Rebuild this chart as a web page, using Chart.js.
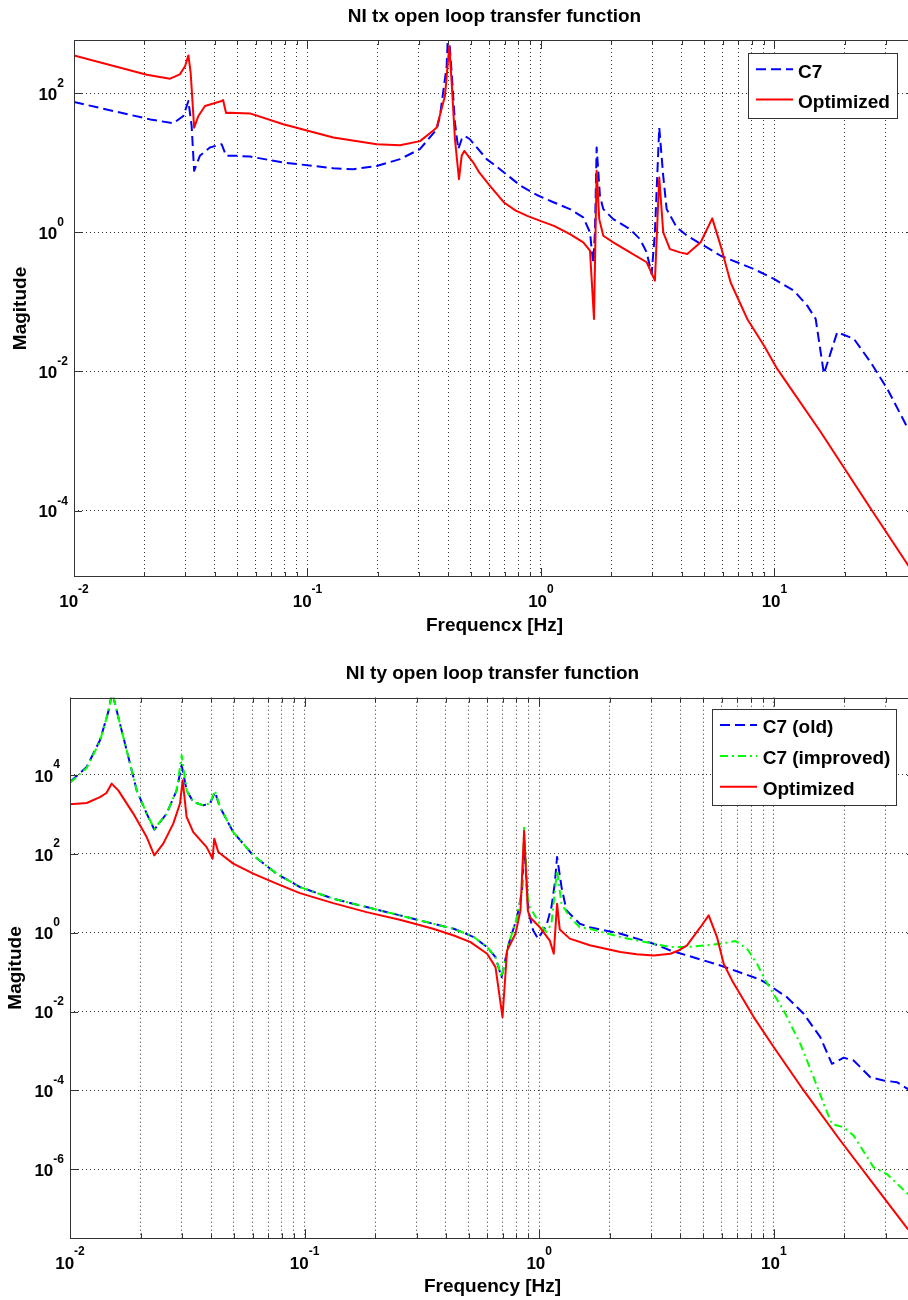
<!DOCTYPE html>
<html>
<head>
<meta charset="utf-8">
<script src="https://cdn.jsdelivr.net/npm/chart.js@4.4.1/dist/chart.umd.min.js"></script>
<style>
html,body{margin:0;padding:0;background:#fff;}
#wrap{position:relative;width:908px;height:1300px;overflow:hidden;background:#fff;}
canvas{position:absolute;left:0;}
#c1{top:0;}
#c2{top:650px;}
</style>
</head>
<body>
<div id="wrap">
<canvas id="c1" width="920" height="650" style="width:920px;height:650px"></canvas>
<canvas id="c2" width="920" height="650" style="width:920px;height:650px"></canvas>
</div>
<script>
// ---------------- DATA ----------------
const titles = ['NI tx open loop transfer function', 'NI ty open loop transfer function'];
const xLabels = ['Frequencx [Hz]', 'Frequency [Hz]'];
const yLabel = 'Magitude';
const txLabels = ['C7', 'Optimized'];
const tyLabels = ['C7 (old)', 'C7 (improved)', 'Optimized'];

const tickBase = '10';
const xMajorTicks = [0.01, 0.1, 1, 10];
const xTickExps = ['-2', '-1', '0', '1'];
const yTicksTop = [1e-4, 1e-2, 1, 1e2];
const yTickExpsTop = ['-4', '-2', '0', '2'];
const yTicksBottom = [1e-6, 1e-4, 1e-2, 1, 1e2, 1e4];
const yTickExpsBottom = ['-6', '-4', '-2', '0', '2', '4'];

// Top panel (tx)
const txFreqC7 = [0.01,0.0212,0.0266,0.0294,0.0309,0.0319,0.0327,0.0346,0.0382,0.0429,0.0448,0.0498,0.0567,0.0788,0.129,0.157,0.198,0.249,0.303,0.3576,0.3694,0.3945,0.4009,0.4146,0.4282,0.4424,0.4575,0.4727,0.4965,0.5853,0.6675,0.8185,0.96,1.137,1.331,1.518,1.622,1.649,1.675,1.703,1.732,1.789,1.849,2.04,2.406,2.655,2.836,2.979,3.077,3.211,3.34,3.454,3.812,4.233,4.991,5.884,8.171,9.952,12.12,13.82,15.02,16.29,18.58,21.9,25.82,30.42,37.31,40];
const txMagC7 = [74.8,42.1,37.0,47.1,77.3,33.9,7.66,12.6,16.6,18.5,12.6,12.6,12.3,10.1,8.36,8.09,9.02,11.3,15.7,30.3,47.1,245,900,197,37.8,15.7,21.8,24.3,21.8,11.3,8.09,4.67,3.45,2.69,2.16,1.64,1.0,0.575,0.372,1.0,16.6,3.35,2.16,1.55,1.11,0.80,0.516,0.251,1.0,32.1,6.46,2.16,1.18,0.89,0.643,0.461,0.297,0.214,0.145,0.0885,0.057,0.00927,0.0367,0.0294,0.0136,0.00565,0.00151,0.00105];
const txFreqOpt = [0.01,0.0205,0.0258,0.0284,0.0299,0.0309,0.0316,0.0327,0.0341,0.0364,0.0429,0.0435,0.0448,0.0466,0.0567,0.0788,0.129,0.198,0.249,0.3033,0.344,0.3576,0.388,0.4049,0.4146,0.4282,0.4455,0.4575,0.4694,0.513,0.545,0.6047,0.6942,0.78,0.8737,1.0,1.137,1.331,1.518,1.622,1.687,1.732,1.777,1.849,2.04,2.406,2.836,3.077,3.211,3.34,3.568,3.938,4.233,4.831,5.416,5.884,6.492,7.648,9.016,10.28,15.78,25.82,37.31,40];
const txMagOpt = [350,184,162,187,245,350,197,32.1,47.1,65.5,77.3,80,52,52.5,51.3,35.8,23.1,18.5,17.9,20.5,28.7,32.1,91.2,475,142,21.8,5.82,12.6,14.8,10.1,7.2,4.67,2.69,2.05,1.73,1.45,1.24,0.946,0.719,0.545,0.057,7.66,1.55,0.894,0.719,0.516,0.372,0.202,6.15,1.0,0.575,0.516,0.49,0.72,1.59,0.64,0.19,0.057,0.0236,0.0109,0.00135,1.07e-4,1.65e-5,1.16e-5];

// Bottom panel (ty)
const tyFreqOld = [0.01,0.01178,0.01342,0.01456,0.01514,0.01606,0.01744,0.01924,0.02123,0.02287,0.02582,0.02848,0.02992,0.03142,0.03353,0.03698,0.0395,0.04149,0.04357,0.04963,0.06039,0.07598,0.0955,0.1324,0.1837,0.2547,0.3532,0.4326,0.5263,0.5998,0.6513,0.691,0.7421,0.8052,0.8457,0.8625,0.8943,0.912,0.9419,0.9892,1.074,1.128,1.165,1.192,1.245,1.307,1.489,1.643,2.22,3.077,3.626,5.026,5.923,7.444,8.77,9.355,11.38,13.41,15.79,17.7,19.86,21.9,25.8,29.39,33.49,37.21,40];
const tyMagOld = [6.64e3,1.6e4,7.6e4,3.98e5,1.26e6,2.95e5,4.24e4,4.09e3,1.05e3,411,1.05e3,4.09e3,1.78e4,4.07e3,2.07e3,1.70e3,1.88e3,3.71e3,1.54e3,357,91.6,31.4,14.4,7.29,4.47,2.75,1.69,1.26,0.776,0.432,0.240,0.0741,0.525,2.49,11.7,200,5.62,2.51,1.15,0.708,1.53,4.47,17.4,83.2,14.5,3.68,1.69,1.38,0.944,0.525,0.355,0.198,0.148,0.0912,0.0646,0.0508,0.0232,8.79e-3,2.24e-3,4.73e-4,6.76e-4,5.75e-4,2.16e-4,1.78e-4,1.62e-4,1.10e-4,8.9e-5];
const tyFreqImp = [0.01,0.01178,0.01342,0.01456,0.01514,0.01606,0.01744,0.01924,0.02123,0.02287,0.02582,0.02848,0.02992,0.03142,0.03353,0.03698,0.0395,0.04149,0.04357,0.04963,0.06039,0.07598,0.0955,0.1324,0.1837,0.2547,0.3532,0.4326,0.5263,0.5998,0.6513,0.691,0.7421,0.8052,0.8457,0.8625,0.8943,0.912,1.006,1.074,1.128,1.192,1.245,1.35,1.489,1.643,2.22,3.077,3.626,4.268,5.192,5.923,6.862,7.69,8.483,9.21,11.02,12.98,14.79,16.32,17.7,19.86,21.9,26.65,30.36,37.21,40];
const tyMagImp = [6.31e3,1.51e4,7.24e4,3.98e5,1.26e6,2.95e5,4.24e4,4.09e3,1.05e3,427,1.05e3,4.09e3,3.16e4,4.07e3,2.07e3,1.70e3,1.91e3,3.98e3,1.54e3,357,91.6,31.4,14.4,7.29,4.47,2.75,1.69,1.26,0.776,0.432,0.240,0.0741,0.525,2.49,11.7,457,7.94,4.47,1.69,1.04,1.69,38.0,5.45,2.51,1.38,1.26,0.776,0.525,0.432,0.432,0.479,0.525,0.617,0.393,0.163,0.0617,0.0107,1.51e-3,2.16e-4,4.57e-5,1.41e-5,1.16e-5,7.16e-6,1.12e-6,7.59e-7,2.40e-7,1.58e-7];
const tyFreqOpt = [0.01,0.01178,0.01342,0.0143,0.01505,0.01606,0.01861,0.02123,0.02287,0.02498,0.02755,0.02942,0.03022,0.03142,0.03353,0.03823,0.04055,0.0412,0.04285,0.04963,0.06039,0.07598,0.0955,0.1324,0.1837,0.2547,0.3532,0.4326,0.5097,0.5998,0.6513,0.6977,0.7297,0.7925,0.8324,0.8625,0.8943,0.912,1.006,1.11,1.154,1.192,1.224,1.35,1.643,2.22,2.6,3.077,3.626,3.95,4.268,4.867,5.279,5.728,6.117,6.637,8.212,9.991,13.41,19.22,29.39,37.21,40];
const tyMagOpt = [1.80e3,1.95e3,2.75e3,3.49e3,6.03e3,4.07e3,1.05e3,267,91.6,182,583,1.86e3,7.33e3,859,357,148,75.5,243,111,56.4,31.4,17.5,10.1,5.64,3.33,2.14,1.26,0.851,0.575,0.293,0.134,7.24e-3,0.355,0.944,3.68,380,3.68,2.51,1.38,0.631,0.293,5.45,1.20,0.708,0.479,0.324,0.285,0.265,0.293,0.36,0.479,1.38,2.75,0.776,0.163,0.0617,7.24e-3,1.26e-3,1.0e-4,5.37e-6,1.95e-7,3.09e-8,2.09e-8];

// ---------------- STYLE / LAYOUT ----------------
const FONT = '"Liberation Sans", Arial, Helvetica, sans-serif';
const X_MIN = 0.01, X_MAX = 40;
const BLUE = '#0000ff', RED = '#ff0000', GREEN = '#00ff00';
const GRID = 'rgba(0,0,0,0.8)';
const AXIS = '#333333';

const matlabPlugin = {
  id: 'matlabAxes',
  afterDraw(chart, args, o) {
    const ctx = chart.ctx;
    const a = chart.chartArea;
    const xs = chart.scales.x, ys = chart.scales.y;
    ctx.save();
    ctx.setLineDash([]);
    ctx.strokeStyle = AXIS;
    ctx.lineWidth = 1;
    // tick marks (inward, on all four sides)
    ctx.beginPath();
    o.xGrid.forEach(v => {
      const px = Math.round(xs.getPixelForValue(v)) + 0.5;
      const major = o.xMajor.indexOf(v) >= 0;
      const len = major ? 9 : 5;
      ctx.moveTo(px, a.bottom); ctx.lineTo(px, a.bottom - len);
      ctx.moveTo(px, a.top); ctx.lineTo(px, a.top + len);
    });
    o.yTicks.forEach(v => {
      const py = Math.round(ys.getPixelForValue(v)) + 0.5;
      ctx.moveTo(a.left, py); ctx.lineTo(a.left + 8, py);
      ctx.moveTo(a.right, py); ctx.lineTo(a.right - 8, py);
    });
    ctx.stroke();
    // axes box
    ctx.strokeRect(Math.round(a.left) + 0.5, Math.round(a.top) + 0.5,
                   Math.round(a.right - a.left) - 1, Math.round(a.bottom - a.top) - 1);

    // tick labels 10^n
    ctx.fillStyle = '#000';
    ctx.textBaseline = 'alphabetic';
    const baseFont = 'bold 17px ' + FONT, expFont = 'bold 12px ' + FONT;
    o.xMajor.forEach((v, i) => {
      const px = xs.getPixelForValue(v);
      ctx.font = baseFont; const w1 = ctx.measureText(tickBase).width;
      ctx.font = expFont; const w2 = ctx.measureText(o.xExps[i]).width;
      const x0 = px - (w1 + w2) / 2;
      ctx.textAlign = 'left';
      ctx.font = baseFont; ctx.fillText(tickBase, x0, a.bottom + o.xBaseOff);
      ctx.font = expFont; ctx.fillText(o.xExps[i], x0 + w1, a.bottom + o.xExpOff);
    });
    o.yTicks.forEach((v, i) => {
      const py = ys.getPixelForValue(v);
      const xr = a.left - 16.7;
      ctx.font = baseFont; ctx.textAlign = 'right';
      ctx.fillText(tickBase, xr, py + 6.7);
      ctx.font = expFont; ctx.textAlign = 'left';
      ctx.fillText(o.yExps[i], xr, py - o.yExpUp);
    });

    // legend
    const L = o.legend;
    ctx.fillStyle = '#fff';
    ctx.fillRect(L.x, L.y, L.w, L.h);
    ctx.strokeStyle = AXIS; ctx.lineWidth = 1;
    ctx.strokeRect(Math.round(L.x) + 0.5, Math.round(L.y) + 0.5, Math.round(L.w), Math.round(L.h));
    chart.data.datasets.forEach((ds, i) => {
      const y = L.rows[i];
      ctx.strokeStyle = ds.borderColor;
      ctx.lineWidth = ds.borderWidth;
      ctx.setLineDash(ds.borderDash || []);
      ctx.lineCap = 'butt';
      ctx.beginPath(); ctx.moveTo(L.lx0, y); ctx.lineTo(L.lx1, y); ctx.stroke();
      ctx.setLineDash([]);
      ctx.fillStyle = '#000';
      ctx.font = 'bold 19px ' + FONT;
      ctx.textAlign = 'left'; ctx.textBaseline = 'middle';
      ctx.fillText(ds.label, L.tx, y + 3);
    });
    ctx.restore();
  }
};

function xGridValues() {
  const vals = [];
  xMajorTicks.forEach(d => {
    for (let k = 1; k <= 9; k++) {
      const v = +(k * d).toPrecision(6);
      if (v <= X_MAX + 1e-9) vals.push(v);
    }
  });
  return vals;
}

function buildPanel(id, p) {
  const gridVals = xGridValues();
  const datasets = p.series.map(s => ({
    label: s.label,
    data: s.freq.map((f, i) => ({ x: f, y: s.mag[i] })),
    borderColor: s.color,
    backgroundColor: s.color,
    borderWidth: 2,
    borderDash: s.dash,
    borderJoinStyle: 'round',
    borderCapStyle: 'butt',
    pointRadius: 0,
    pointHoverRadius: 0,
    tension: 0,
    fill: false,
    order: s.order
  }));
  const labelFont = { family: FONT, size: 19, weight: 'bold' };
  return new Chart(document.getElementById(id), {
    type: 'line',
    data: { datasets },
    options: {
      responsive: false,
      animation: false,
      events: [],
      layout: { padding: { left: 0, top: 0, right: 5, bottom: 0 }, autoPadding: false },
      plugins: {
        legend: { display: false },
        tooltip: { enabled: false },
        title: {
          display: true, text: p.title, color: '#000', font: labelFont,
          padding: p.titlePad, fullSize: false
        },
        matlabAxes: {
          xGrid: gridVals, xMajor: xMajorTicks, xExps: xTickExps,
          yTicks: p.yTicks, yExps: p.yExps,
          xBaseOff: p.xBaseOff, xExpOff: p.xExpOff, yExpUp: p.yExpUp,
          legend: p.legend
        }
      },
      scales: {
        x: {
          type: 'logarithmic', position: 'bottom', min: X_MIN, max: X_MAX, bounds: 'data',
          afterBuildTicks: s => { s.ticks = gridVals.map(v => ({ value: v })); },
          afterFit: s => { s.height = p.xAxisH; },
          ticks: { display: false },
          grid: { color: GRID, lineWidth: 1, drawTicks: false },
          border: { display: false, dash: [1, 3] },
          title: { display: true, text: p.xLabel, color: '#000', font: labelFont,
                   padding: { top: 0, bottom: p.xTitleBottom } }
        },
        y: {
          type: 'logarithmic', position: 'left', min: p.yMin, max: p.yMax, bounds: 'data',
          afterBuildTicks: s => { s.ticks = p.yTicks.map(v => ({ value: v })); },
          afterFit: s => { s.width = p.yAxisW; },
          ticks: { display: false },
          grid: { color: GRID, lineWidth: 1, drawTicks: false },
          border: { display: false, dash: [1, 3] },
          title: { display: true, text: yLabel, color: '#000', font: labelFont,
                   padding: { top: p.yTitleTop, bottom: 0 } }
        }
      }
    },
    plugins: [matlabPlugin]
  });
}

buildPanel('c1', {
  title: titles[0], xLabel: xLabels[0],
  titlePad: { top: 5.4, bottom: 11.8 },
  xAxisH: 73, xTitleBottom: 13.1, yAxisW: 74, yTitleTop: 9.6,
  yMin: 1.11e-5, yMax: 583,
  yTicks: yTicksTop, yExps: yTickExpsTop,
  xBaseOff: 30.3, xExpOff: 16.3, yExpUp: 6,
  legend: { x: 747.7, y: 52.7, w: 149, h: 65, rows: [69.3, 99.5], lx0: 756, lx1: 793, tx: 798 },
  series: [
    { label: txLabels[0], freq: txFreqC7, mag: txMagC7, color: BLUE, dash: [10, 5], order: 2 },
    { label: txLabels[1], freq: txFreqOpt, mag: txMagOpt, color: RED, dash: [], order: 0 }
  ]
});

buildPanel('c2', {
  title: titles[1], xLabel: xLabels[1],
  titlePad: { top: 11.9, bottom: 13.0 },
  xAxisH: 61.7, xTitleBottom: 1.9, yAxisW: 70, yTitleTop: 4.6,
  yMin: 1.78e-8, yMax: 9.12e5,
  yTicks: yTicksBottom, yExps: yTickExpsBottom,
  xBaseOff: 31, xExpOff: 16.7, yExpUp: 6.7,
  legend: { x: 712.3, y: 59.3, w: 184.4, h: 95.7, rows: [75, 106, 136.7], lx0: 720, lx1: 757, tx: 762.7 },
  series: [
    { label: tyLabels[0], freq: tyFreqOld, mag: tyMagOld, color: BLUE, dash: [10, 5], order: 2 },
    { label: tyLabels[1], freq: tyFreqImp, mag: tyMagImp, color: GREEN, dash: [8, 4, 2, 4], order: 1 },
    { label: tyLabels[2], freq: tyFreqOpt, mag: tyMagOpt, color: RED, dash: [], order: 0 }
  ]
});
</script>
</body>
</html>
